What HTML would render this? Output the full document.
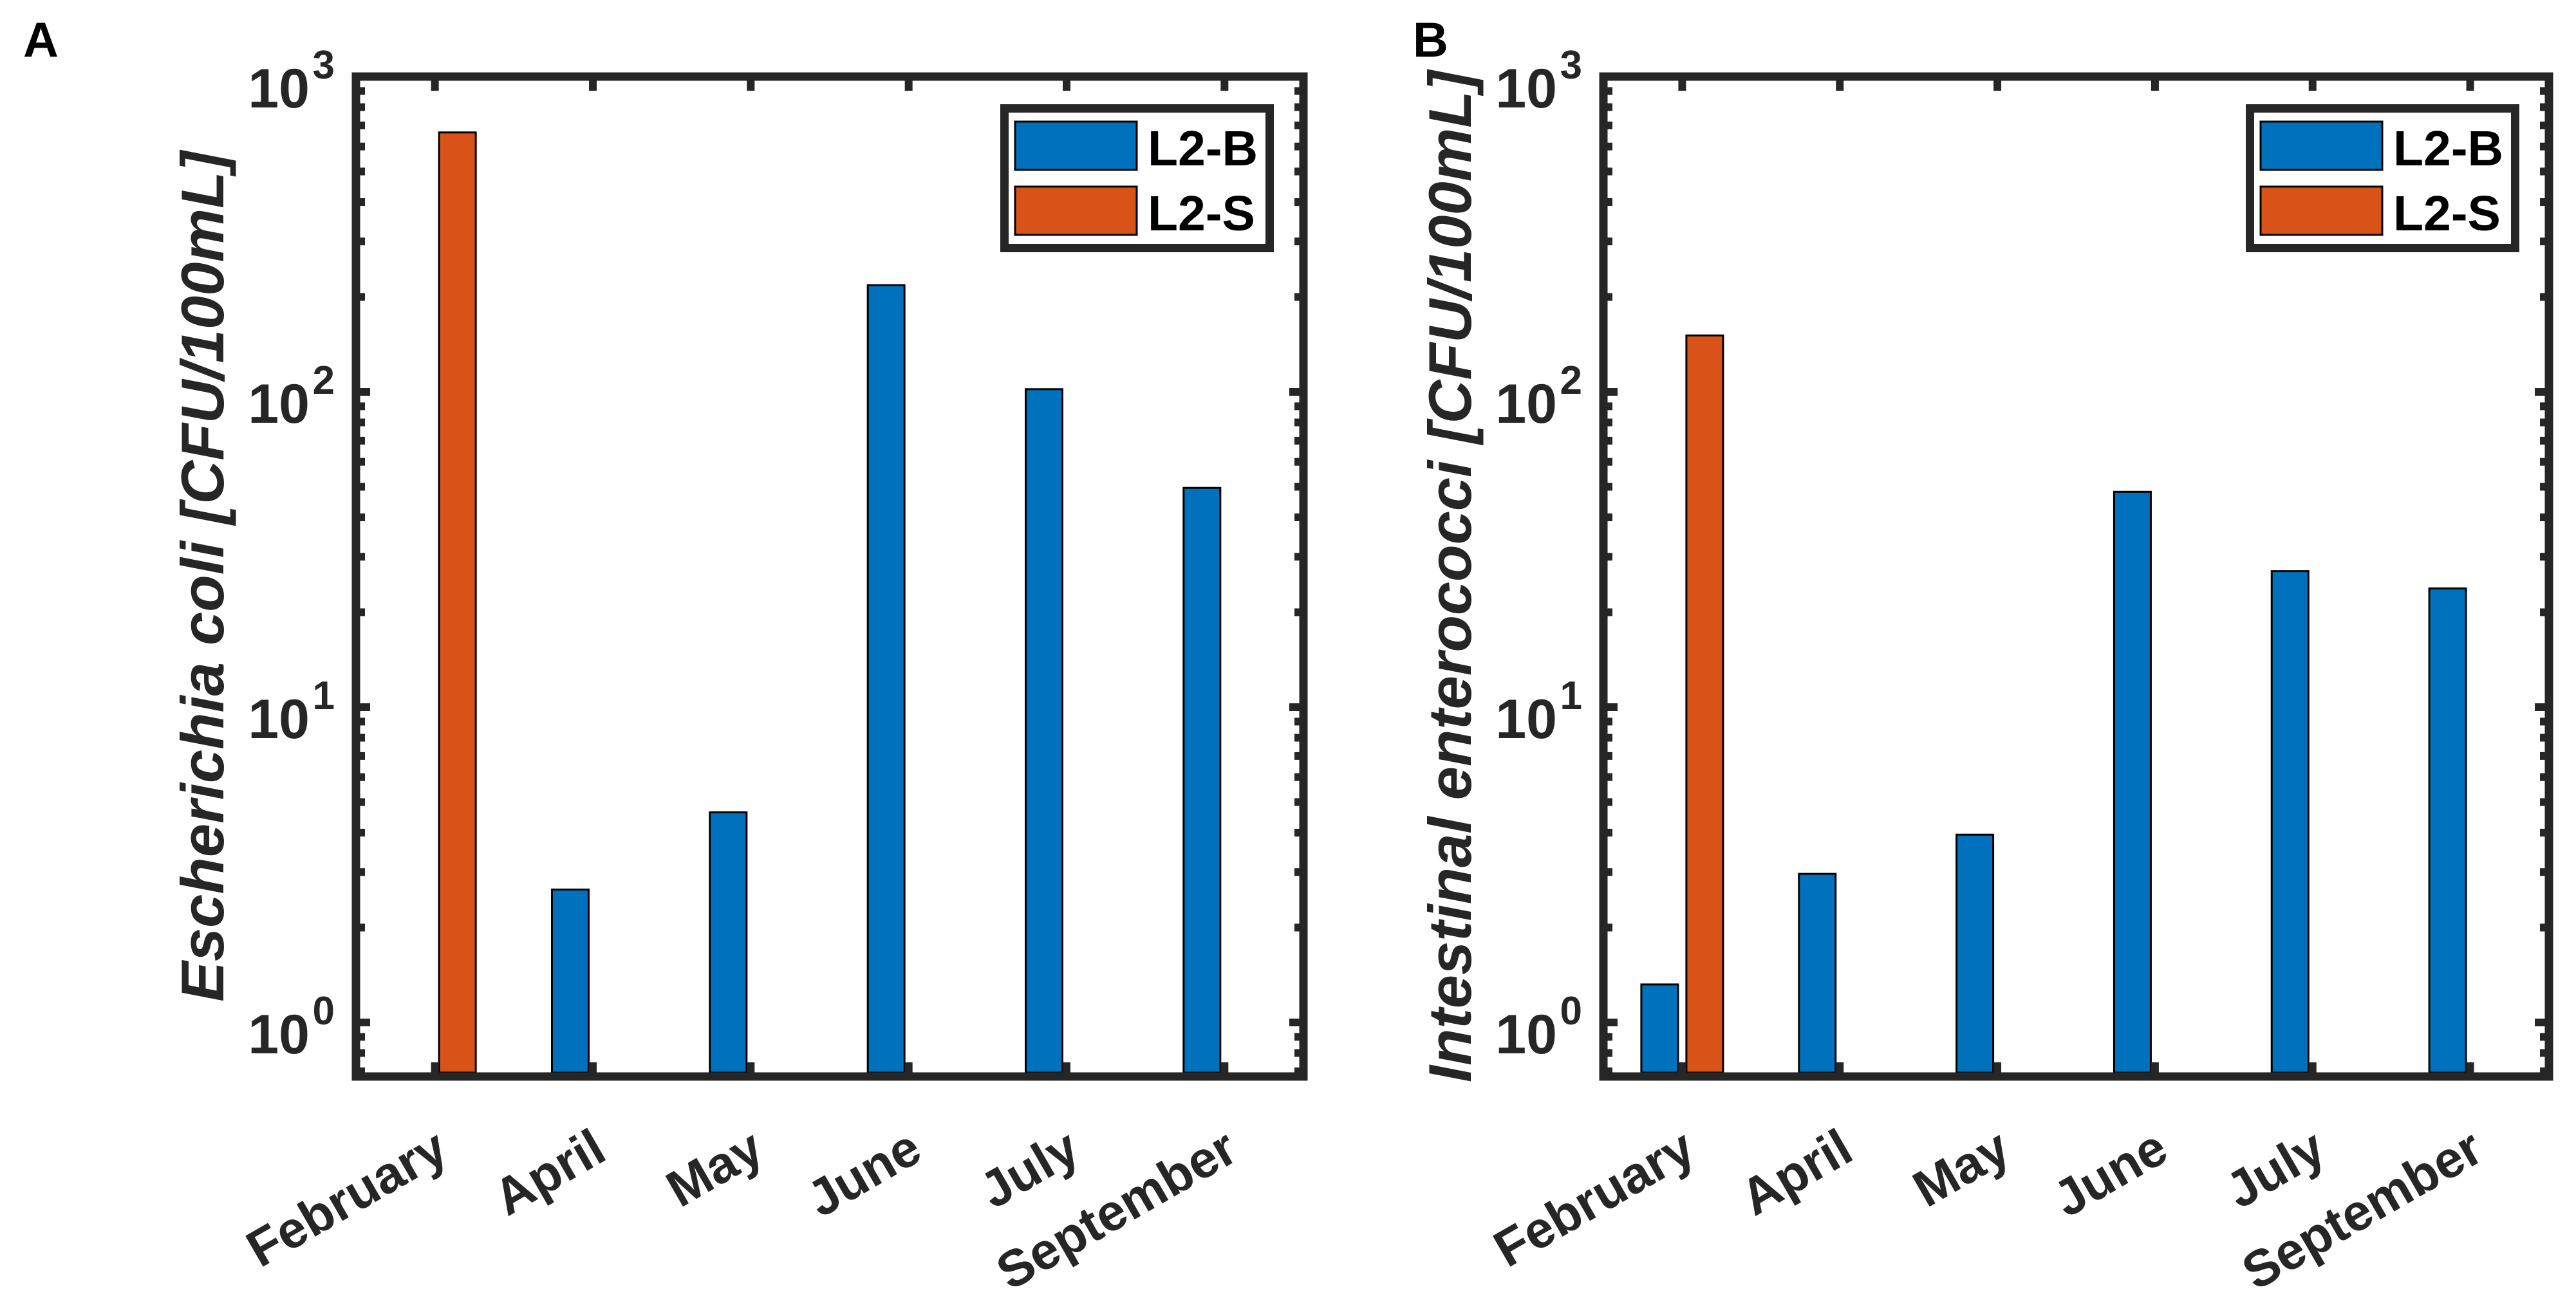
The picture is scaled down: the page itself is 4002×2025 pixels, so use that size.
<!DOCTYPE html>
<html><head><meta charset="utf-8"><style>
html,body{margin:0;padding:0;background:#fff;}
svg{display:block;font-family:"Liberation Sans",Arial,sans-serif;}
</style></head><body>
<svg id="fig" width="4002" height="2025" viewBox="0 0 4002 2025" xmlns="http://www.w3.org/2000/svg">
<rect width="4002" height="2025" fill="#fff"/>
</svg>
<script>
const categories = ["February","April","May","June","July","September"];
const ecoliB = [null, 2.64, 4.64, 218, 102, 49.6];
const ecoliS = [665, null, null, null, null, null];
const enteroB = [1.32, 2.96, 3.94, 48.2, 27, 23.8];
const enteroS = [151, null, null, null, null, null];
const yTickExps = [0, 1, 2, 3];
const legendLabels = ["L2-B","L2-S"];
const yTitles = ["Escherichia coli [CFU/100mL]","Intestinal enterococci [CFU/100mL]"];
const panelLetters = ["A","B"];

const NS = "http://www.w3.org/2000/svg";
const svg = document.getElementById('fig');
const BLUE = "#0072BD", ORANGE = "#D95319", AX = "#262626";
function mk(tag, attrs, parent) {
  const e = document.createElementNS(NS, tag);
  for (const k in attrs) e.setAttribute(k, attrs[k]);
  (parent || svg).appendChild(e);
  return e;
}

function panel(p) {
  const L = p.left, R = p.right, T = 119, B = 1673;
  const g = mk('g', {});
  
  
  const yZero = 1589, dec = 490;
  const yScale = v => yZero - Math.log10(v) * dec;
  const step = (R - L) / categories.length;
  const xScale = i => L + step * (i + 0.5);
  const off = 35, bw = 57;

  const drawBars = (arr, color, sign, sname) => {
    arr.forEach((v, i) => {
      if (v == null) return;
      const cx = xScale(i) + sign * off;
      const y = yScale(v);
      const r = mk('rect', {x: cx - bw/2, y: y, width: bw, height: (B - 6) - y, fill: color, stroke: '#000', 'stroke-width': 3}, g);
      
      
    });
  };
  drawBars(p.b, BLUE, -1, 'l2-b');
  drawBars(p.s, ORANGE, 1, 'l2-s');

  const tk = mk('g', {stroke: AX, 'stroke-width': 12}, g);
  
  
  categories.forEach((c, i) => {
    const x = xScale(i);
    mk('line', {x1: x, y1: B, x2: x, y2: B - 22}, tk);
    mk('line', {x1: x, y1: T, x2: x, y2: T + 22}, tk);
  });
  for (let e = -1; e <= 2; e++) {
    for (let m = 1; m <= 9; m++) {
      const v = m * Math.pow(10, e);
      const y = yScale(v);
      if (y > B - 4 || y < T + 4) continue;
      const len = m === 1 ? 22 : 14;
      mk('line', {x1: L, y1: y, x2: L + len, y2: y}, tk);
      mk('line', {x1: R, y1: y, x2: R - len, y2: y}, tk);
    }
  }
  const fr = mk('rect', {x: L, y: T, width: R - L, height: B - T, fill: 'none', stroke: AX, 'stroke-width': 13}, g);
  
  

  yTickExps.forEach(e => {
    const y = yScale(Math.pow(10, e));
    const t = mk('text', {x: L - 72, y: y + 48, 'text-anchor': 'end', 'font-size': 86, 'font-weight': 'bold', fill: AX}, g);
    t.textContent = '10';
    
    
    const s = mk('text', {x: L - 33, y: y + 3, 'text-anchor': 'end', 'font-size': 62, 'font-weight': 'bold', fill: AX}, g);
    s.textContent = String(e);
    
    
  });

  categories.forEach((c, i) => {
    const x = xScale(i) + 25, y = 1800;
    const t = mk('text', {x: x, y: y, 'text-anchor': 'end', 'font-size': 80, 'font-weight': 'bold', fill: AX, transform: `rotate(-30 ${x} ${y})`}, g);
    t.textContent = c;
    
    
  });

  const tx = p.titleX, ty = (T + B) / 2;
  const yt = mk('text', {x: tx, y: ty, 'text-anchor': 'middle', 'font-size': 94, 'font-weight': 'bold', 'font-style': 'italic', fill: AX, transform: `rotate(-90 ${tx} ${ty})`}, g);
  yt.textContent = p.title;
  
  

  const pl = mk('text', {x: p.letterX, y: 88, 'font-size': 76, 'font-weight': 'bold', fill: '#000'}, g);
  pl.textContent = p.letter;
  
  

  const lg = mk('g', {}, g);
  
  
  const lx = R - 46 - 425, ly = 162;
  mk('rect', {x: lx + 6.5, y: ly + 6.5, width: 412, height: 217, fill: '#fff', stroke: AX, 'stroke-width': 13}, lg);
  [BLUE, ORANGE].forEach((col, k) => {
    const e = mk('g', {}, lg);
    
    
    mk('rect', {x: lx + 23, y: ly + 27 + k * 101, width: 189, height: 75, fill: col, stroke: '#000', 'stroke-width': 3}, e);
    const t = mk('text', {x: lx + 229, y: ly + 95 + k * 101, 'font-size': 77, 'font-weight': 'bold', fill: '#000'}, e);
    t.textContent = legendLabels[k];
  });
}

panel({left: 553, right: 2025, b: ecoliB, s: ecoliS, title: yTitles[0], titleX: 347, letter: panelLetters[0], letterX: 36});
panel({left: 2491, right: 3960, b: enteroB, s: enteroS, title: yTitles[1], titleX: 2285, letter: panelLetters[1], letterX: 2195});
</script>
</body></html>
